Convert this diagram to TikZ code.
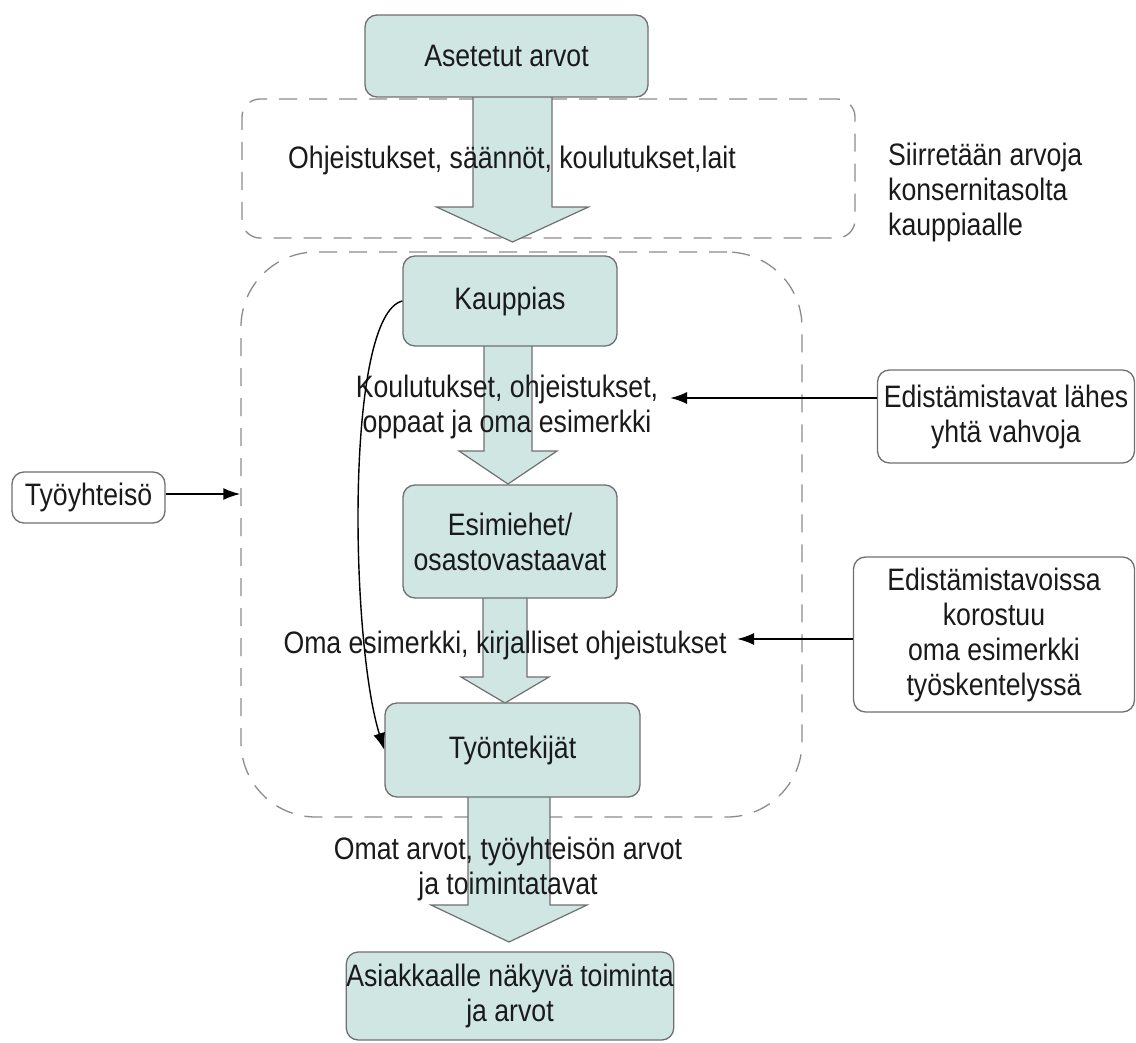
\documentclass[tikz,border=0pt]{standalone}
\usepackage{fontspec}
\setmainfont{Liberation Sans}[FakeStretch=0.86]
\usetikzlibrary{arrows.meta,calc}
\definecolor{boxfill}{HTML}{CFE6E3}
\definecolor{boxline}{HTML}{707070}
\definecolor{dashline}{HTML}{8C8C8C}
\definecolor{ink}{HTML}{1A1A1A}

% broad block arrow: #1 x centre, #2 shaft top, #3 head base, #4 tip, #5 half shaft, #6 half head
\newcommand\fatarrow[6]{%
  \path[flow] (#1-#5,#2) -- (#1-#5,#3) -- (#1-#6,#3) -- (#1,#4)
    -- (#1+#6,#3) -- (#1+#5,#3) -- (#1+#5,#2) -- cycle;}

\begin{document}
\begin{tikzpicture}[x=1pt,y=-1pt,
  every node/.style={font=\fontsize{31}{35}\selectfont, inner sep=0pt, text=ink},
  stage/.style={draw=boxline, line width=1.3pt, fill=boxfill, rounded corners=12pt, align=center},
  note/.style={draw=boxline, line width=1.3pt, fill=white, rounded corners=12pt, align=center},
  zone/.style={draw=dashline, line width=1.3pt, dash pattern=on 18pt off 12pt},
  flow/.style={draw=boxline, line width=1.2pt, fill=boxfill},
  pointer/.style={draw=black, line width=2pt, -{Latex[length=17pt,width=12pt]}},
]
\path[fill=white] (0,0) rectangle (1136,1043);
\useasboundingbox (0,0) rectangle (1136,1043);

% dashed groupings
\node[zone, rounded corners=18pt, minimum width=613pt, minimum height=139pt] (upper) at (548.5,168.5) {};
\node[zone, rounded corners=75pt, minimum width=561pt, minimum height=565pt] (group) at (521.5,534.5) {};

% block arrows between the stages
\fatarrow{512.5}{96}{207}{242}{39.5}{76}
\fatarrow{508}{345}{451}{484}{24}{49}
\fatarrow{505}{597}{677}{703}{22}{44}
\fatarrow{509}{796}{905}{942}{41}{78}

% stages
\node[stage, minimum width=283pt, minimum height=82pt] (asetetut) at (506.5,56) {Asetetut arvot};
\node[stage, minimum width=214pt, minimum height=90pt] (kauppias) at (510,301) {Kauppias};
\node[stage, minimum width=214pt, minimum height=113pt] (esimiehet) at (510,541.5) {Esimiehet/\\osastovastaavat};
\node[stage, minimum width=255pt, minimum height=94pt] (tyontekijat) at (512.5,750) {Työntekijät};
\node[stage, minimum width=322pt, minimum height=88pt] (asiakas) at (510,996) {Asiakkaalle näkyvä toiminta\\ja arvot};

% side notes
\node[note, minimum width=153pt, minimum height=51pt] (tyoyhteiso) at (88.5,497.5) {Työyhteisö};
\node[note, minimum width=257pt, minimum height=93pt] (edist1) at (1006,416.5) {Edistämistavat lähes\\yhtä vahvoja};
\node[note, minimum width=281pt, minimum height=155pt] (edist2) at (994,634.5) {Edistämistavoissa\\korostuu\\oma esimerkki\\työskentelyssä};

% labels on the flows
\node (rules) at (512,160) {Ohjeistukset, säännöt, koulutukset,lait};
\node[align=left, anchor=west] (transfer) at (888,192) {Siirretään arvoja\\konsernitasolta\\kauppiaalle};
\node[align=center] (lbl2) at (507,407) {Koulutukset, ohjeistukset,\\oppaat ja oma esimerkki};
\node (lbl3) at (505,645) {Oma esimerkki, kirjalliset ohjeistukset};
\node[align=center] (lbl4) at (508,869) {Omat arvot, työyhteisön arvot\\ja toimintatavat};

% pointers
\coordinate (p1) at (670,398);
\coordinate (p2) at (737,639);
\draw[pointer] (edist1.west |- p1) -- (p1);
\draw[pointer] (edist2.west |- p2) -- (p2);
\draw[pointer] (tyoyhteiso.east |- 0,494) -- (group.west |- 0,494);
\draw[pointer, line width=1.4pt] (kauppias.west) .. controls (345,315) and (350,640) .. (tyontekijat.west);
\end{tikzpicture}
\end{document}
